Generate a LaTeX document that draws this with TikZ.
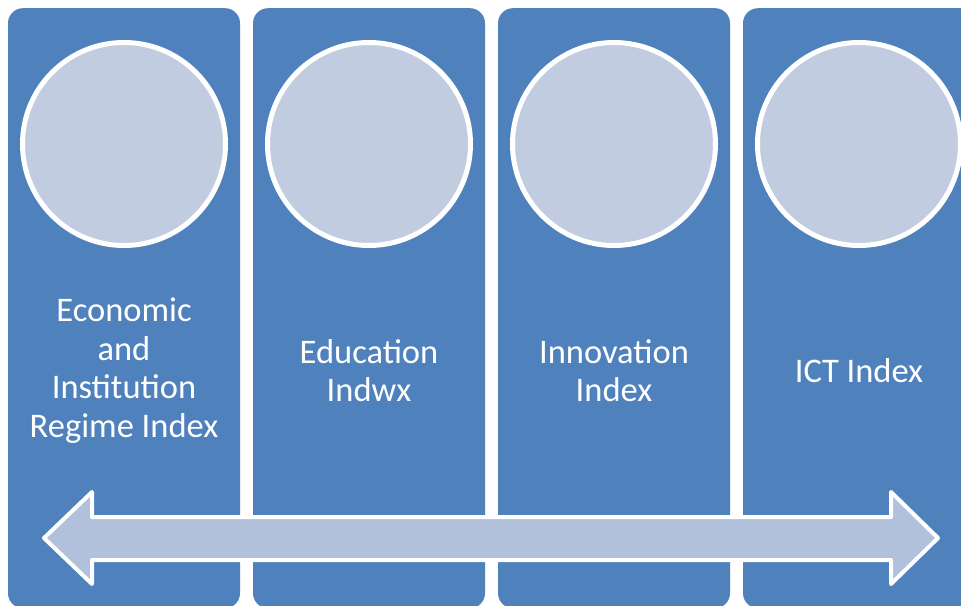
\documentclass[tikz,border=0pt]{standalone}
\usepackage{fontspec}
\setmainfont{Carlito}
\definecolor{colblue}{HTML}{4F81BD}
\definecolor{circfill}{HTML}{C2CCE1}
\definecolor{arrfill}{HTML}{B1C1DB}
\tikzset{
  column/.style={fill=colblue, draw=none, rounded corners=15pt, minimum width=232pt, minimum height=600pt, inner sep=0pt, anchor=north},
  disc/.style={circle, fill=circfill, draw=white, line width=5pt, minimum size=203pt, inner sep=0pt},
  label/.style={text=white, font=\fontsize{34.5}{38.5}\selectfont, align=center, inner sep=0pt},
  bigarrow/.style={fill=arrfill, draw=white, line width=4pt, line join=round}
}
\begin{document}
\begin{tikzpicture}[x=1pt,y=-1pt]
\useasboundingbox (0,0) rectangle (961,605);
\fill[white] (0,0) rectangle (961,605);
\clip (0,0) rectangle (961,605);
\foreach \i/\cx in {1/124,2/369,3/614,4/859}{
  \node[column] (col\i) at (\cx,8) {};
  \node[disc] (disc\i) at (\cx,144) {};
}
\node[label] (t1) at (124,370.5) {Economic\\and\\Institution\\Regime Index};
\node[label] (t2) at (369,370.5) {Education\\Indwx};
\node[label] (t3) at (614,370.5) {Innovation\\Index};
\node[label] (t4) at (859,370.5) {ICT Index};
\coordinate (ltip) at (44,538);
\coordinate (rtip) at (938,538);
\draw[bigarrow] (ltip) -- (92,492) -- (92,517) -- (891,517) -- (891,492) -- (rtip) -- (891,584) -- (891,560) -- (92,560) -- (92,584) -- cycle;
\end{tikzpicture}
\end{document}
